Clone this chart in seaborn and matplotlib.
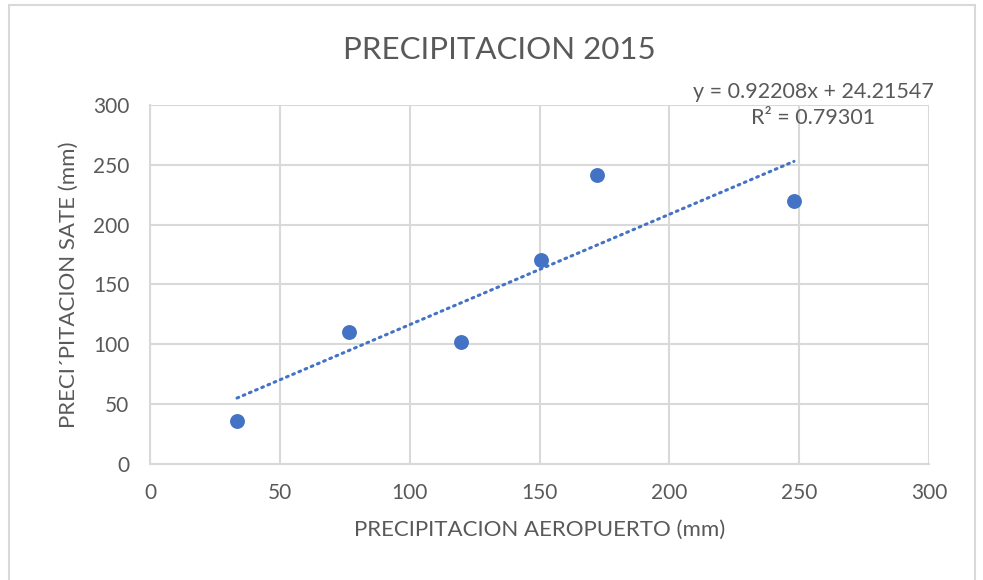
"""Dispersión precipitación aeropuerto vs satélite (2015) con tendencia lineal."""

import matplotlib.pyplot as plt
import numpy as np
import pandas as pd
import seaborn as sns
from matplotlib.patches import Rectangle

# Datos
precip_aeropuerto = [33.5, 76.6, 119.8, 150.6, 172.1, 248.0]
precip_sate = [36.0, 110.3, 101.9, 170.4, 241.4, 219.7]

# Tendencia reportada en el gráfico
pendiente = 0.92208
intercepto = 24.21547
r2 = 0.79301

ticks = [0, 50, 100, 150, 200, 250, 300]

AZUL = "#4472C4"
GRIS_TXT = "#595959"
GRIS_GRID = "#D9D9D9"

sns.set_theme(style="whitegrid")
plt.rcParams["font.family"] = ["Lato", "DejaVu Sans"]

df = pd.DataFrame({"AERO": precip_aeropuerto, "SATE": precip_sate})

fig = plt.figure(figsize=(9.83, 5.8), dpi=100)
ax = fig.add_axes([0.1526, 0.2, 0.7925, 0.619])

# Línea de tendencia entre min y max de x
xs = np.array([df["AERO"].min(), df["AERO"].max()])
tend = pd.DataFrame({"x": xs, "y": pendiente * xs + intercepto})
ax.plot(tend["x"], tend["y"], color=AZUL, linewidth=2.2,
        linestyle=(0, (0.6, 1.6)), dash_capstyle="round", zorder=2)

sns.scatterplot(data=df, x="AERO", y="SATE", color=AZUL, s=115,
                edgecolor=AZUL, linewidth=0, ax=ax, zorder=3)

ax.set_xlim(0, 300)
ax.set_ylim(0, 300)
ax.set_xticks(ticks)
ax.set_yticks(ticks)
ax.grid(True, color=GRIS_GRID, linewidth=1.5)
for side in ["top", "right"]:
    ax.spines[side].set_visible(False)
for side in ["left", "bottom"]:
    ax.spines[side].set_color(GRIS_GRID)
    ax.spines[side].set_linewidth(1.5)
ax.tick_params(axis="both", colors=GRIS_TXT, labelsize=15, length=0)
ax.tick_params(axis="x", pad=14)
ax.tick_params(axis="y", pad=15)

ax.set_xlabel("PRECIPITACION AEROPUERTO (mm)", color=GRIS_TXT, fontsize=16,
              labelpad=12)
ax.set_ylabel("PRECI\u00b4PITACION SATE (mm)", color=GRIS_TXT, fontsize=16,
              labelpad=10)

fig.text(0.508, 0.914, "PRECIPITACION 2015", color=GRIS_TXT, fontsize=22.5,
         ha="center", va="center")

fig.text(0.827, 0.819,
         f"y = {pendiente:.5f}x + {intercepto:.5f}\nR\u00b2 = {r2:.5f}",
         color=GRIS_TXT, fontsize=15.5, ha="center", va="center",
         linespacing=1.35)

# Marco del área del gráfico
fig.patches.append(Rectangle((0.009, -0.01), 0.983, 1.001,
                             transform=fig.transFigure, fill=False,
                             edgecolor=GRIS_GRID, linewidth=1.5))

fig.savefig("out.png", dpi=100)
